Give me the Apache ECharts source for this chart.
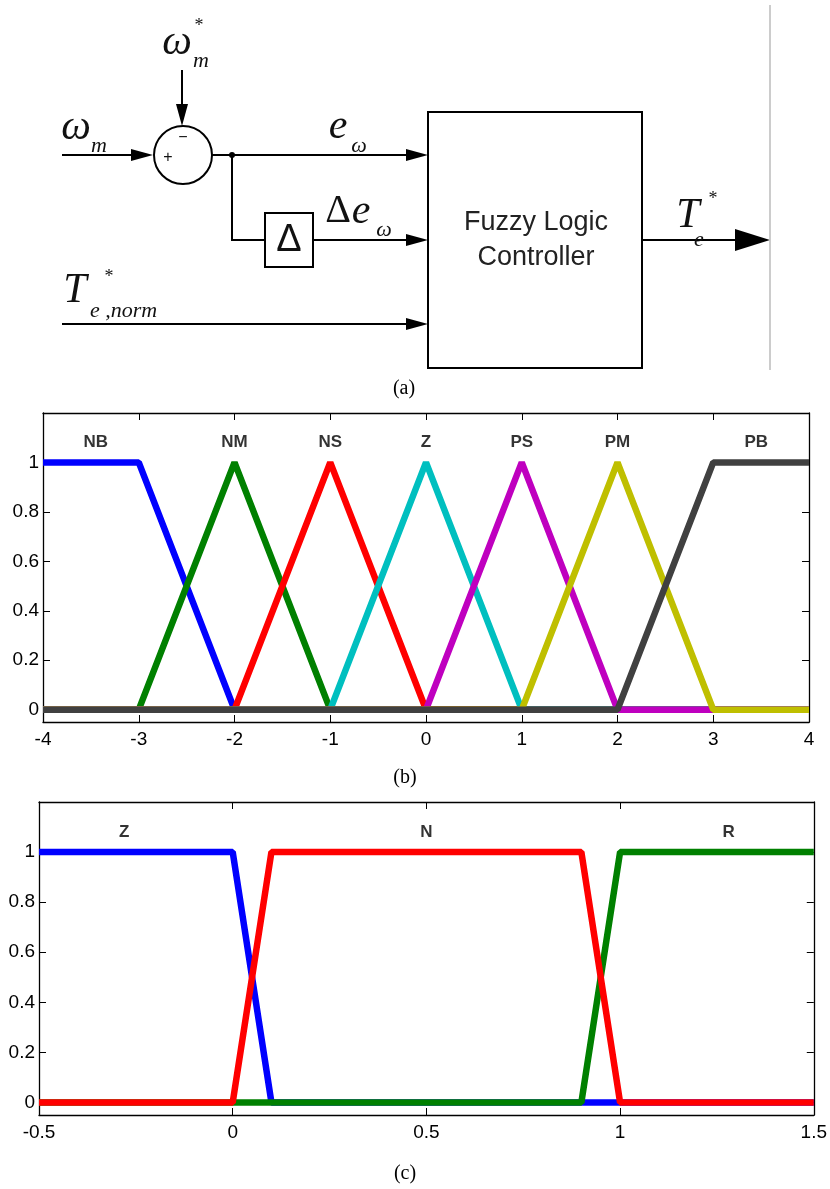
<!DOCTYPE html>
<html>
<head>
<meta charset="utf-8">
<script src="https://cdn.jsdelivr.net/npm/echarts@6/dist/echarts.min.js"></script>
<style>
  body { margin: 0; background: #fff; }
  #main { width: 830px; height: 1189px; }
</style>
</head>
<body>
<div id="main"></div>
<script>
// (b) membership functions, breakpoints [x, mu]
const nbPts = [[-4, 1], [-3, 1], [-2, 0], [4, 0]];
const nmPts = [[-4, 0], [-3, 0], [-2, 1], [-1, 0], [4, 0]];
const nsPts = [[-4, 0], [-2, 0], [-1, 1], [0, 0], [4, 0]];
const zPts = [[-4, 0], [-1, 0], [0, 1], [1, 0], [4, 0]];
const psPts = [[-4, 0], [0, 0], [1, 1], [2, 0], [4, 0]];
const pmPts = [[-4, 0], [1, 0], [2, 1], [3, 0], [4, 0]];
const pbPts = [[-4, 0], [2, 0], [3, 1], [4, 1]];
const bNames = ['NB', 'NM', 'NS', 'Z', 'PS', 'PM', 'PB'];
const bLabelX = [-3.45, -2, -1, 0, 1, 2, 3.45];

// (c) membership functions
const czPts = [[-0.5, 1], [0, 1], [0.1, 0], [1.5, 0]];
const cnPts = [[-0.5, 0], [0, 0], [0.1, 1], [0.9, 1], [1, 0], [1.5, 0]];
const crPts = [[-0.5, 0], [0.9, 0], [1, 1], [1.5, 1]];
const cNames = ['Z', 'N', 'R'];
const cLabelX = [-0.28, 0.5, 1.28];

const labelY = 1.08;
const yTicks = [0, 0.2, 0.4, 0.6, 0.8, 1];

const chart = echarts.init(document.getElementById('main'));

const tickFont = { color: '#000', fontSize: 19, fontFamily: 'Liberation Sans, Arial, sans-serif' };
const frame = { show: true, onZero: false, lineStyle: { color: '#000', width: 1.3 } };

function xAx(grid, pos, min, max, step, labels) {
  return {
    type: 'value', gridIndex: grid, position: pos, min: min, max: max, interval: step,
    axisLine: frame,
    axisTick: { show: true, inside: true, length: 7, lineStyle: { color: '#000' } },
    axisLabel: labels ? Object.assign({ margin: 8 }, tickFont) : { show: false },
    splitLine: { show: false }
  };
}
function yAx(grid, pos, labels) {
  return {
    type: 'value', gridIndex: grid, position: pos, min: -0.05, max: 1.2,
    axisLine: frame,
    axisTick: { show: true, inside: true, length: 7, customValues: yTicks, lineStyle: { color: '#000' } },
    axisLabel: labels ? Object.assign({ margin: 4, customValues: yTicks }, tickFont) : { show: false },
    splitLine: { show: false }
  };
}
function mf(name, pts, color, xi, yi) {
  return {
    name: name, type: 'line', xAxisIndex: xi, yAxisIndex: yi, data: pts,
    symbol: 'none', lineStyle: { color: color, width: 6.5 }, z: 2
  };
}
function names(list, xs, xi, yi) {
  return {
    type: 'scatter', xAxisIndex: xi, yAxisIndex: yi, symbolSize: 1,
    itemStyle: { color: 'rgba(0,0,0,0)' }, z: 5,
    data: list.map((n, i) => [xs[i], labelY, n]),
    label: {
      show: true, position: 'inside', formatter: p => p.value[2],
      color: '#000', textBorderWidth: 0, fontWeight: 'bold', fontSize: 17,
      fontFamily: 'Liberation Sans, Arial, sans-serif'
    }
  };
}

// block diagram (a)
const serif = 'Liberation Serif, Times New Roman, serif';
const sans = 'Liberation Sans, Arial, sans-serif';
const blk = { stroke: '#000', lineWidth: 2, fill: null };
function ln(pts, st) { return { type: 'polyline', shape: { points: pts }, style: Object.assign({}, blk, st || {}) }; }
function head(tx, ty, dir, len, half) {
  let p;
  if (dir === 'right') p = [[tx, ty], [tx - len, ty - half], [tx - len, ty + half]];
  else p = [[tx, ty], [tx - half, ty - len], [tx + half, ty - len]];
  return { type: 'polygon', shape: { points: p }, style: { fill: '#000' } };
}
function tx(t, x, y, size, opt) {
  return {
    type: 'text', x: x, y: y,
    style: Object.assign({
      text: t, fill: '#111', fontSize: size, fontFamily: serif, fontStyle: 'italic',
      textAlign: 'center', textVerticalAlign: 'middle'
    }, opt || {})
  };
}
const diagram = [
  // omega*_m reference input
  tx('ω', 177, 43, 42), tx('*', 199, 26, 18, { fontStyle: 'normal' }), tx('m', 201, 61, 22),
  ln([[182, 70], [182, 106]]), head(182, 126, 'down', 22, 6),
  // omega_m measured input
  tx('ω', 76, 128, 42), tx('m', 99, 146, 22),
  ln([[62, 155], [134, 155]]), head(153, 155, 'right', 22, 6),
  { type: 'circle', shape: { cx: 183, cy: 155, r: 29 }, style: blk },
  tx('−', 183, 138, 16, { fontStyle: 'normal', fontFamily: sans }),
  tx('+', 168, 158, 16, { fontStyle: 'normal', fontFamily: sans }),
  // error path
  ln([[212, 155], [408, 155]]), head(428, 155, 'right', 22, 6),
  { type: 'circle', shape: { cx: 232, cy: 155, r: 3 }, style: { fill: '#000' } },
  tx('e', 338, 127, 42), tx('ω', 359, 146, 22),
  // delta path
  ln([[232, 155], [232, 240], [265, 240]]),
  { type: 'rect', shape: { x: 265, y: 213, width: 48, height: 54 }, style: blk },
  tx('Δ', 289, 241, 38, { fontStyle: 'normal', fontFamily: sans }),
  ln([[313, 240], [408, 240]]), head(428, 240, 'right', 22, 6),
  tx('Δ', 338, 211, 40, { fontStyle: 'normal' }), tx('e', 361, 212, 42), tx('ω', 384, 230, 22),
  // torque norm input
  tx('T', 75, 291, 42), tx('*', 109, 277, 18, { fontStyle: 'normal' }),
  tx('e ,norm', 90, 311, 22, { textAlign: 'left' }),
  ln([[62, 324], [408, 324]]), head(428, 324, 'right', 22, 6),
  // controller
  { type: 'rect', shape: { x: 428, y: 112, width: 214, height: 256 }, style: blk },
  tx('Fuzzy Logic', 536, 223, 27, { fontStyle: 'normal', fontFamily: sans, fill: '#222' }),
  tx('Controller', 536, 258, 27, { fontStyle: 'normal', fontFamily: sans, fill: '#222' }),
  ln([[642, 240], [738, 240]]), head(770, 240, 'right', 35, 11),
  tx('T', 688, 216, 42), tx('*', 713, 199, 18, { fontStyle: 'normal' }), tx('e', 699, 240, 22),
  ln([[770, 5], [770, 370]], { stroke: '#bbb', lineWidth: 1.5 }),
  // captions
  tx('(a)', 404, 389, 20, { fontStyle: 'normal', fill: '#000' }),
  tx('(b)', 405, 778, 20, { fontStyle: 'normal', fill: '#000' }),
  tx('(c)', 405, 1174, 20, { fontStyle: 'normal', fill: '#000' })
];

const option = {
  animation: false,
  backgroundColor: '#fff',
  grid: [
    { left: 43, top: 413, width: 766, height: 309 },
    { left: 39, top: 802, width: 775, height: 313 }
  ],
  xAxis: [
    xAx(0, 'bottom', -4, 4, 1, true),
    xAx(0, 'top', -4, 4, 1, false),
    xAx(1, 'bottom', -0.5, 1.5, 0.5, true),
    xAx(1, 'top', -0.5, 1.5, 0.5, false)
  ],
  yAxis: [
    yAx(0, 'left', true),
    yAx(0, 'right', false),
    yAx(1, 'left', true),
    yAx(1, 'right', false)
  ],
  series: [
    mf('NB', nbPts, '#0000FF', 0, 0),
    mf('NM', nmPts, '#008000', 0, 0),
    mf('NS', nsPts, '#FF0000', 0, 0),
    mf('Z', zPts, '#00BFBF', 0, 0),
    mf('PS', psPts, '#BF00BF', 0, 0),
    mf('PM', pmPts, '#BFBF00', 0, 0),
    mf('PB', pbPts, '#404040', 0, 0),
    names(bNames, bLabelX, 0, 0),
    mf('Z', czPts, '#0000FF', 2, 2),
    mf('R', crPts, '#008000', 2, 2),
    mf('N', cnPts, '#FF0000', 2, 2),
    names(cNames, cLabelX, 2, 2)
  ],
  graphic: diagram
};
chart.setOption(option);
</script>
</body>
</html>
